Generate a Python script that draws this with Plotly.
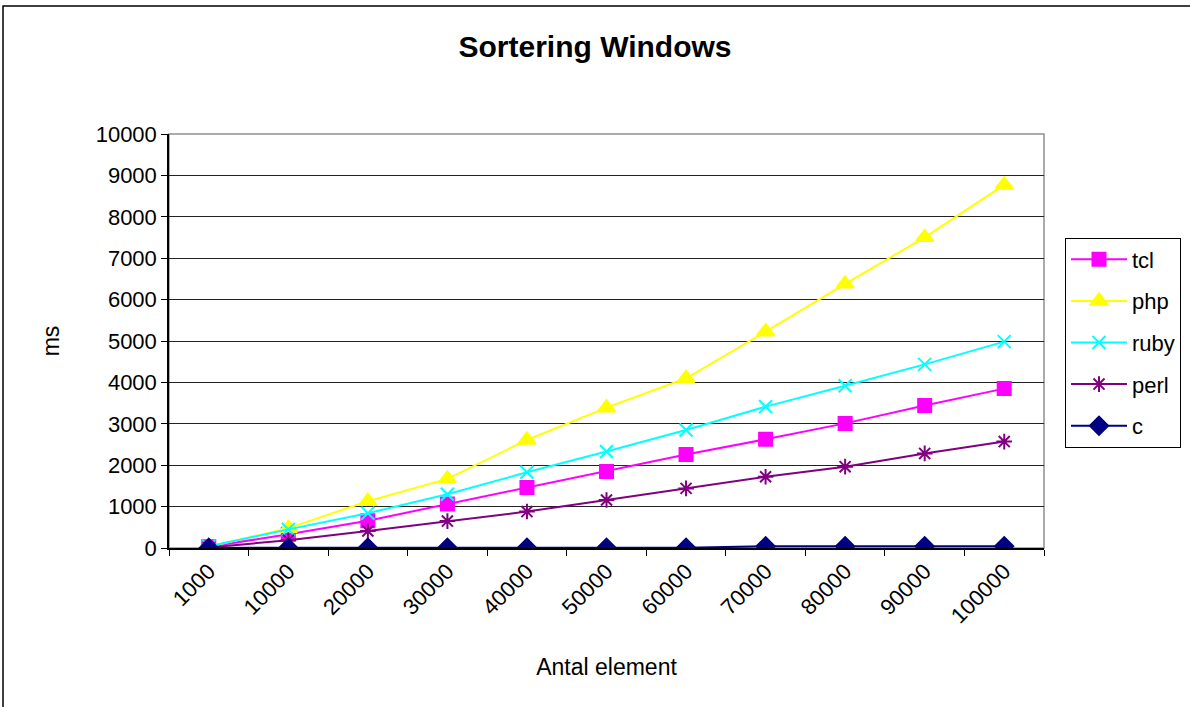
import plotly.graph_objects as go

categories = ["1000", "10000", "20000", "30000", "40000", "50000", "60000", "70000", "80000", "90000", "100000"]
tcl = [30, 330, 660, 1060, 1460, 1845, 2260, 2625, 3010, 3440, 3850]
php = [30, 480, 1130, 1670, 2610, 3390, 4100, 5225, 6380, 7505, 8770]
ruby = [40, 450, 840, 1300, 1830, 2330, 2850, 3415, 3920, 4435, 4985]
perl = [10, 190, 410, 650, 880, 1160, 1440, 1720, 1965, 2285, 2570]
c = [3, 3, 4, 4, 4, 5, 5, 40, 40, 42, 45]

series = [
    ("tcl", tcl, "#FF00FF", "square", 13),
    ("php", php, "#FFFF00", "triangle-up", 15),
    ("ruby", ruby, "#00FFFF", "x-thin-open", 13),
    ("perl", perl, "#800080", "asterisk-open", 13),
    ("c", c, "#000080", "diamond", 14),
]

fig = go.Figure()
for i, (name, vals, col, sym, sz) in enumerate(series):
    fig.add_trace(go.Scatter(
        x=categories, y=vals, name=name, mode="lines+markers",
        line=dict(color=col, width=2),
        marker=dict(symbol=sym, size=sz, color=col, line=dict(color=col, width=2)),
        legendgroup=name,
    ))

font_family = "Liberation Sans, Arial, sans-serif"
fig.update_layout(
    width=1190, height=707,
    margin=dict(l=169, r=146, t=134, b=159, autoexpand=False),
    paper_bgcolor="white", plot_bgcolor="white",
    font=dict(family=font_family, size=22, color="black"),
    title=dict(text="<b>Sortering Windows</b>", x=0.5, xanchor="center", y=0.934, yanchor="middle",
               font=dict(size=30, family=font_family)),
    showlegend=True,
    legend=dict(x=1.024, y=0.75, xanchor="left", yanchor="top",
                bordercolor="black", borderwidth=1, bgcolor="white",
                font=dict(size=22), tracegroupgap=10, itemwidth=56),
    xaxis=dict(
        type="category", showline=True, linecolor="black", linewidth=1.5,
        ticks="outside", ticklen=6, tickcolor="black", tickson="boundaries",
        tickangle=-45, showgrid=False, mirror=False,
        title=dict(text="Antal element", standoff=32, font=dict(size=23)),
        range=[-0.5, 10.5],
    ),
    yaxis=dict(
        range=[0, 10000], dtick=1000, tickformat="d", showline=True, linecolor="black", linewidth=1.5,
        ticks="outside", ticklen=6, tickcolor="black",
        showgrid=True, gridcolor="#222222", gridwidth=1,
        title=dict(text="ms", standoff=30, font=dict(size=23)),
        zeroline=False,
    ),
    shapes=[
        dict(type="rect", xref="paper", yref="paper", x0=0, x1=1, y0=0, y1=1,
             line=dict(color="#909090", width=1.5), layer="below"),
        dict(type="rect", xref="paper", yref="paper", x0=-0.1897, x1=1.3, y0=-0.6, y1=1.309,
             line=dict(color="black", width=1.5), layer="below"),
    ],
)

fig.write_html("out.html")
